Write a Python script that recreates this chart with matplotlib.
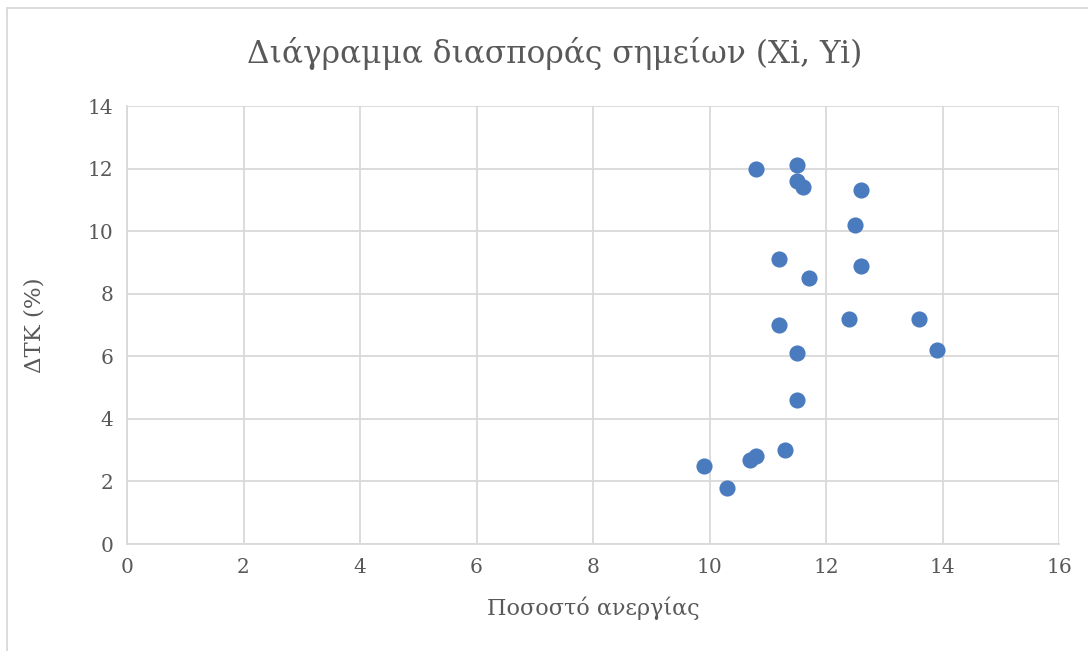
import matplotlib
matplotlib.use("Agg")
import matplotlib.pyplot as plt
from matplotlib.patches import Rectangle

# data (unemployment %, ΔΤΚ %)
unemployment = [10.8, 11.5, 11.5, 11.6, 12.6, 12.5, 11.2, 12.6, 11.7, 11.2,
                12.4, 13.6, 13.9, 11.5, 11.5, 11.3, 10.8, 10.7, 9.9, 10.3]
cpi_change = [12.0, 12.1, 11.6, 11.4, 11.3, 10.2, 9.1, 8.9, 8.5, 7.0,
              7.2, 7.2, 6.2, 6.1, 4.6, 3.0, 2.8, 2.7, 2.5, 1.8]
x_ticks = [0, 2, 4, 6, 8, 10, 12, 14, 16]
y_ticks = [0, 2, 4, 6, 8, 10, 12, 14]

title = "Διάγραμμα διασποράς σημείων (Xi, Yi)"
x_label = "Ποσοστό ανεργίας"
y_label = "ΔΤΚ (%)"

text_col = "#595959"
grid_col = "#d9d9d9"
plt.rcParams["font.family"] = ["DejaVu Serif"]

W, H = 1088, 651
fig = plt.figure(figsize=(W / 100, H / 100), dpi=100)

# chart frame (partly cut off, like the screenshot)
fig.patches.append(Rectangle((6.5 / W, -0.1), 1.2, 1.1 - 8.5 / H,
                             transform=fig.transFigure, fill=False,
                             edgecolor=grid_col, linewidth=1.3))

ax = fig.add_axes([127 / W, (H - 544) / H, (1059 - 127) / W, (544 - 106) / H])
ax.scatter(unemployment, cpi_change, s=135, color="#4a7bbf", zorder=3,
           linewidths=0)

ax.set_xlim(0, 16)
ax.set_ylim(0, 14)
ax.set_xticks(x_ticks)
ax.set_yticks(y_ticks)
ax.grid(True, color=grid_col, linewidth=1.3)
ax.set_axisbelow(True)
for side in ["top", "right"]:
    ax.spines[side].set_visible(False)
for side in ["left", "bottom"]:
    ax.spines[side].set_color(grid_col)
    ax.spines[side].set_linewidth(1.3)
ax.tick_params(length=0, labelsize=14.5, colors=text_col, pad=10)

ax.set_xlabel(x_label, fontsize=16, color=text_col, labelpad=14)
ax.set_ylabel(y_label, fontsize=16.5, color=text_col, labelpad=30)
fig.text(555 / W, 1 - 53 / H, title, fontsize=22.5, color=text_col,
         ha="center", va="center")

fig.savefig("out.png", dpi=100)
